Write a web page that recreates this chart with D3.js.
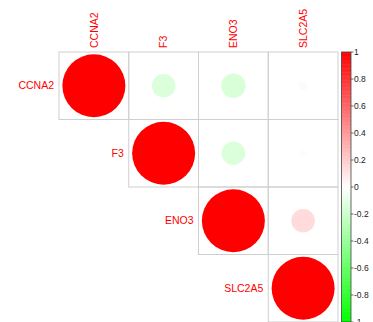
<!DOCTYPE html>
<html>
<head>
<meta charset="utf-8">
<script src="https://cdn.jsdelivr.net/npm/d3@7"></script>
<style>
  html, body { margin: 0; padding: 0; background: #fff; }
  svg { display: block; font-family: "Liberation Sans", Arial, Helvetica, sans-serif; }
</style>
</head>
<body>
<svg id="chart" width="373" height="322"></svg>
<script>
// Genes shown on both axes
const genes = ["CCNA2", "F3", "ENO3", "SLC2A5"];

// Correlation coefficients, one row per gene (upper triangle is drawn)
const rowCCNA2  = [1.00, -0.14, -0.15, 0.02];
const rowF3     = [-0.14, 1.00, -0.14, -0.015];
const rowENO3   = [-0.15, -0.14, 1.00, 0.14];
const rowSLC2A5 = [0.02, -0.015, 0.14, 1.00];
const correlations = [rowCCNA2, rowF3, rowENO3, rowSLC2A5];

// Colour-legend tick labels
const legendTicks = [1, 0.8, 0.6, 0.4, 0.2, 0, -0.2, -0.4, -0.6, -0.8, -1];

const svg = d3.select("#chart");

const grid = { left: 59, right: 338, top: 52, bottom: 322 };

const x = d3.scaleBand().domain(genes).range([grid.left, grid.right]);
const y = d3.scaleBand().domain(genes).range([grid.top, grid.bottom]);

// green -> white -> red colour ramp
const color = d3.scaleLinear()
  .domain([-1, 0, 1])
  .range(["#00ff00", "#ffffff", "#ff0000"])
  .interpolate(d3.interpolateRgb);

// circle area proportional to |r|
const maxR = 31.5;
const radius = d3.scaleSqrt().domain([0, 1]).range([0, maxR]);

// flatten upper triangle
const cells = [];
genes.forEach((rg, i) => {
  genes.forEach((cg, j) => {
    if (j >= i) cells.push({ row: rg, col: cg, value: correlations[i][j] });
  });
});

// cell borders
svg.append("g").selectAll("rect")
  .data(cells)
  .join("rect")
  .attr("x", d => x(d.col))
  .attr("y", d => y(d.row))
  .attr("width", x.bandwidth())
  .attr("height", y.bandwidth())
  .attr("fill", "none")
  .attr("stroke", "#cfcfcf")
  .attr("stroke-width", 1);

// circles
svg.append("g").selectAll("circle")
  .data(cells)
  .join("circle")
  .attr("cx", d => x(d.col) + x.bandwidth() / 2)
  .attr("cy", d => y(d.row) + y.bandwidth() / 2)
  .attr("r", d => radius(Math.abs(d.value)))
  .attr("fill", d => color(d.value));

// column labels (rotated, above the grid)
svg.append("g").selectAll("text")
  .data(genes)
  .join("text")
  .attr("transform", d => `translate(${x(d) + x.bandwidth() / 2},${grid.top - 4}) rotate(-90)`)
  .attr("dy", "0.35em")
  .attr("text-anchor", "start")
  .attr("font-size", "10.5px")
  .attr("fill", "#ff0000")
  .text(d => d);

// row labels (left of each diagonal cell)
svg.append("g").selectAll("text")
  .data(genes)
  .join("text")
  .attr("x", d => x(d) - 5)
  .attr("y", d => y(d) + y.bandwidth() / 2)
  .attr("dy", "0.35em")
  .attr("text-anchor", "end")
  .attr("font-size", "10.5px")
  .attr("fill", "#ff0000")
  .text(d => d);

// colour legend
const bar = { x: 341.5, w: 9.5, top: 52, bottom: 322 };
const ly = d3.scaleLinear().domain([1, -1]).range([bar.top, bar.bottom]);

const nSteps = 200;
const steps = d3.range(nSteps).map(i => 1 - (i + 0.5) * 2 / nSteps);
const stepH = (bar.bottom - bar.top) / nSteps;
svg.append("g").selectAll("rect")
  .data(steps)
  .join("rect")
  .attr("x", bar.x)
  .attr("y", d => ly(d) - stepH / 2)
  .attr("width", bar.w)
  .attr("height", stepH + 0.5)
  .attr("fill", d => color(d));

svg.append("rect")
  .attr("x", bar.x)
  .attr("y", bar.top)
  .attr("width", bar.w)
  .attr("height", bar.bottom - bar.top)
  .attr("fill", "none")
  .attr("stroke", "#444")
  .attr("stroke-width", 0.8);

const axis = svg.append("g");
axis.selectAll("line")
  .data(legendTicks)
  .join("line")
  .attr("x1", bar.x + bar.w)
  .attr("x2", bar.x + bar.w + 2.5)
  .attr("y1", d => ly(d))
  .attr("y2", d => ly(d))
  .attr("stroke", "#444")
  .attr("stroke-width", 0.8);

// last label sits on the bottom edge, as in the legend's layout
axis.selectAll("text")
  .data(legendTicks)
  .join("text")
  .attr("x", bar.x + bar.w + 3)
  .attr("y", d => ly(d))
  .attr("dy", "0.35em")
  .attr("font-size", "8.5px")
  .attr("fill", "#222")
  .text(d => String(d));
</script>
</body>
</html>
